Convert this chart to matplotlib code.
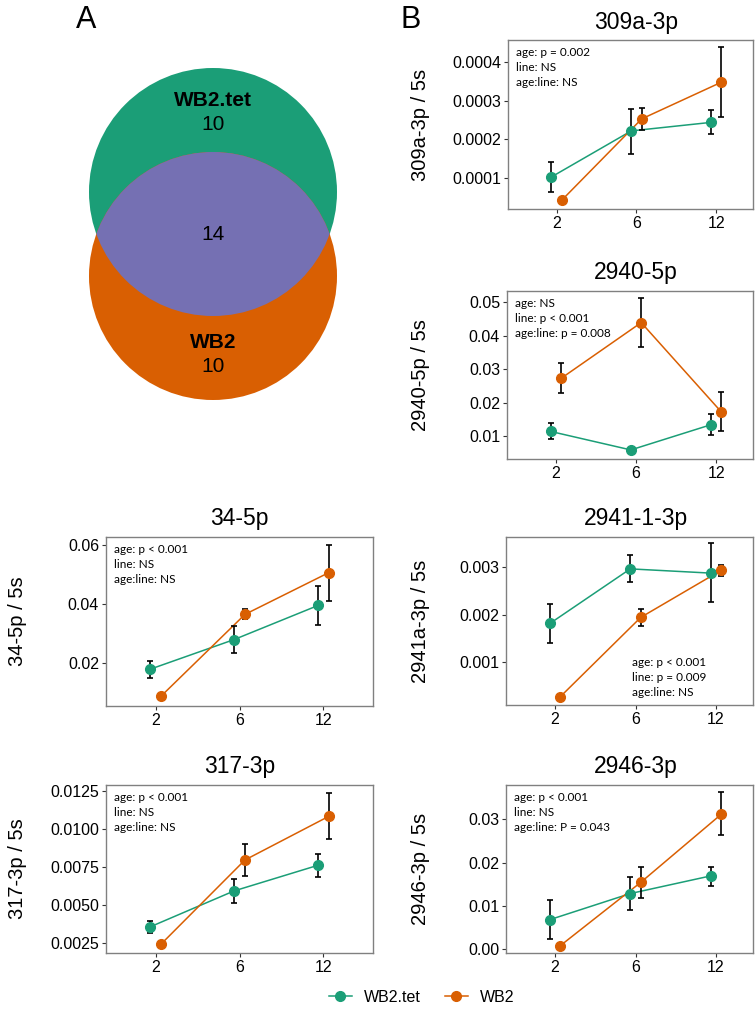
import numpy as np
import matplotlib
matplotlib.use("Agg")
import matplotlib.pyplot as plt
from matplotlib.patches import Circle
import matplotlib.transforms as mtransforms

plt.rcParams['font.family'] = ['Liberation Sans', 'DejaVu Sans']

W, H = 755, 1014

# ---- data ----
ages = ["2", "6", "12"]
groups = ["WB2.tet", "WB2"]
colors = {"WB2.tet": "#1B9E77", "WB2": "#D95F02"}
overlap_color = "#7570B3"

venn_only_tet = 10
venn_only_wb2 = 10
venn_shared = 14

# mean, lower, upper per group for each miRNA
mir309_tet = [0.000103, 0.000222, 0.000244]
mir309_tet_lo = [0.000064, 0.000163, 0.000214]
mir309_tet_hi = [0.000142, 0.000279, 0.000276]
mir309_wb2 = [0.000043, 0.000253, 0.000348]
mir309_wb2_lo = [0.000041, 0.000224, 0.000259]
mir309_wb2_hi = [0.000045, 0.000282, 0.000438]

mir2940_tet = [0.0115, 0.0060, 0.0135]
mir2940_tet_lo = [0.0092, 0.0057, 0.0104]
mir2940_tet_hi = [0.0139, 0.0063, 0.0167]
mir2940_wb2 = [0.0273, 0.0439, 0.0173]
mir2940_wb2_lo = [0.0229, 0.0366, 0.0117]
mir2940_wb2_hi = [0.0318, 0.0513, 0.0233]

mir34_tet = [0.0180, 0.0280, 0.0395]
mir34_tet_lo = [0.0152, 0.0236, 0.0329]
mir34_tet_hi = [0.0208, 0.0325, 0.0462]
mir34_wb2 = [0.0089, 0.0365, 0.0506]
mir34_wb2_lo = [0.0087, 0.0350, 0.0411]
mir34_wb2_hi = [0.0091, 0.0383, 0.0600]

mir2941_tet = [0.00181, 0.00297, 0.00288]
mir2941_tet_lo = [0.00140, 0.00269, 0.00226]
mir2941_tet_hi = [0.00222, 0.00326, 0.00351]
mir2941_wb2 = [0.000255, 0.00194, 0.00294]
mir2941_wb2_lo = [0.000245, 0.00176, 0.00282]
mir2941_wb2_hi = [0.000265, 0.00212, 0.00305]

mir317_tet = [0.00353, 0.00590, 0.00759]
mir317_tet_lo = [0.00310, 0.00510, 0.00684]
mir317_tet_hi = [0.00392, 0.00670, 0.00831]
mir317_wb2 = [0.00239, 0.00794, 0.01082]
mir317_wb2_lo = [0.00236, 0.00690, 0.00930]
mir317_wb2_hi = [0.00242, 0.00897, 0.01238]

mir2946_tet = [0.00674, 0.0128, 0.0169]
mir2946_tet_lo = [0.0023, 0.0089, 0.0146]
mir2946_tet_hi = [0.0112, 0.0167, 0.0190]
mir2946_wb2 = [0.0007, 0.0154, 0.0312]
mir2946_wb2_lo = [0.0006, 0.0117, 0.0263]
mir2946_wb2_hi = [0.0008, 0.0190, 0.0364]

panels = [
    # title, ylabel, tet, tet_lo, tet_hi, wb2, wb2_lo, wb2_hi, yticks, yticklabels, ylim, stats, rect(l,t,r,b), stats_loc
    ("309a-3p", "309a-3p / 5s", mir309_tet, mir309_tet_lo, mir309_tet_hi,
     mir309_wb2, mir309_wb2_lo, mir309_wb2_hi,
     [0.0001, 0.0002, 0.0003, 0.0004], ["0.0001", "0.0002", "0.0003", "0.0004"],
     (0.00002, 0.000457), "age: p = 0.002\nline: NS\nage:line: NS", (508, 40, 753, 209), "top"),
    ("2940-5p", "2940-5p / 5s", mir2940_tet, mir2940_tet_lo, mir2940_tet_hi,
     mir2940_wb2, mir2940_wb2_lo, mir2940_wb2_hi,
     [0.01, 0.02, 0.03, 0.04, 0.05], ["0.01", "0.02", "0.03", "0.04", "0.05"],
     (0.0033, 0.0533), "age: NS\nline: p < 0.001\nage:line: p = 0.008", (507, 291, 753, 459), "top"),
    ("34-5p", "34-5p / 5s", mir34_tet, mir34_tet_lo, mir34_tet_hi,
     mir34_wb2, mir34_wb2_lo, mir34_wb2_hi,
     [0.02, 0.04, 0.06], ["0.02", "0.04", "0.06"],
     (0.0056, 0.0626), "age: p < 0.001\nline: NS\nage:line: NS", (106, 537, 373, 706), "top"),
    ("2941-1-3p", "2941a-3p / 5s", mir2941_tet, mir2941_tet_lo, mir2941_tet_hi,
     mir2941_wb2, mir2941_wb2_lo, mir2941_wb2_hi,
     [0.001, 0.002, 0.003], ["0.001", "0.002", "0.003"],
     (0.000079, 0.003647), "age: p < 0.001\nline: p = 0.009\nage:line: NS", (506, 537, 753, 705), "bottom"),
    ("317-3p", "317-3p / 5s", mir317_tet, mir317_tet_lo, mir317_tet_hi,
     mir317_wb2, mir317_wb2_lo, mir317_wb2_hi,
     [0.0025, 0.0050, 0.0075, 0.0100, 0.0125], ["0.0025", "0.0050", "0.0075", "0.0100", "0.0125"],
     (0.00181, 0.01288), "age: p < 0.001\nline: NS\nage:line: NS", (106, 785, 373, 953), "top"),
    ("2946-3p", "2946-3p / 5s", mir2946_tet, mir2946_tet_lo, mir2946_tet_hi,
     mir2946_wb2, mir2946_wb2_lo, mir2946_wb2_hi,
     [0.00, 0.01, 0.02, 0.03], ["0.00", "0.01", "0.02", "0.03"],
     (-0.001, 0.038), "age: p < 0.001\nline: NS\nage:line: P = 0.043", (506, 785, 753, 953), "top"),
]

fig = plt.figure(figsize=(W / 100, H / 100), dpi=100)


def rect(l, t, r, b):
    return [l / W, 1 - b / H, (r - l) / W, (b - t) / H]


# ---- panel A: venn ----
axv = fig.add_axes([0, 0, 1, 1])
axv.set_xlim(0, W)
axv.set_ylim(H, 0)
axv.axis("off")
r = 124
c_tet = (213, 192)
c_wb2 = (213, 276)
axv.add_patch(Circle(c_tet, r, color=colors["WB2.tet"], lw=0))
axv.add_patch(Circle(c_wb2, r, color=colors["WB2"], lw=0))
clip = Circle(c_tet, r, transform=axv.transData)
ov = Circle(c_wb2, r, color=overlap_color, lw=0)
axv.add_patch(ov)
ov.set_clip_path(clip)
axv.text(213, 100, "WB2.tet", ha="center", va="center", fontsize=15, fontweight="bold")
axv.text(213, 124, str(venn_only_tet), ha="center", va="center", fontsize=15)
axv.text(213, 234, str(venn_shared), ha="center", va="center", fontsize=15)
axv.text(213, 343, "WB2", ha="center", va="center", fontsize=15, fontweight="bold")
axv.text(213, 366, str(venn_only_wb2), ha="center", va="center", fontsize=15)
axv.text(86, 20, "A", ha="center", va="center", fontsize=22)
axv.text(411, 20, "B", ha="center", va="center", fontsize=22)

# ---- panel B: line plots ----
x = np.arange(1, len(ages) + 1)
dodge = {"WB2.tet": -0.065, "WB2": 0.065}

for (title, ylab, tet, tet_lo, tet_hi, wb2, wb2_lo, wb2_hi,
     yt, ytl, ylim, stats, (l, t, rr, b), loc) in panels:
    ax = fig.add_axes(rect(l, t, rr, b))
    wpx = rr - l
    if l < 300:
        xmin, xmax = 0.41, 3.59
        ylab_x = 27
    else:
        xmin, xmax = 0.39, 3.46
        ylab_x = 430
    for g, m, lo, hi in (("WB2.tet", tet, tet_lo, tet_hi), ("WB2", wb2, wb2_lo, wb2_hi)):
        xs = x + dodge[g]
        m = np.array(m)
        err = np.vstack([m - np.array(lo), np.array(hi) - m])
        ax.plot(xs, m, color=colors[g], lw=1.1, zorder=2)
        ax.errorbar(xs, m, yerr=err, fmt="none", ecolor="black", elinewidth=1.2,
                    capsize=2, capthick=1.2, zorder=3)
        ax.plot(xs, m, "o", color=colors[g], ms=7, zorder=4, mec=colors[g])
    ax.set_xlim(xmin, xmax)
    ax.set_ylim(*ylim)
    ax.set_xticks(x)
    ax.set_xticklabels(ages)
    ax.set_yticks(yt)
    ax.set_yticklabels(ytl)
    ax.tick_params(labelsize=11.5, colors="#333333", length=3, width=0.8, pad=2)
    ax.tick_params(labelcolor="black")
    for s in ax.spines.values():
        s.set_color("#808080")
        s.set_linewidth(1)
    ax.set_ylabel(ylab, fontsize=14.5)
    ax.yaxis.set_label_coords(-(l - ylab_x) / wpx, 0.5)
    trans = mtransforms.blended_transform_factory(ax.transData, ax.transAxes)
    ax.text(2, 1 + 18 / (b - t), title, transform=trans, ha="center", va="center", fontsize=16.5)
    hpx = b - t
    if loc == "top":
        ax.text(8 / wpx, 1 - 7 / hpx, stats, transform=ax.transAxes, ha="left", va="top",
                fontsize=8.5, family=["Lato", "DejaVu Sans"], linespacing=1.45)
    else:
        ax.text((632 - l) / wpx, 7 / hpx, stats, transform=ax.transAxes, ha="left", va="bottom",
                fontsize=8.5, family=["Lato", "DejaVu Sans"], linespacing=1.45)

# ---- legend ----
handles = [plt.Line2D([], [], color=colors[g], marker="o", ms=7, lw=1.1) for g in groups]
fig.legend(handles, groups, loc="center", bbox_to_anchor=(422 / W, 1 - 997 / H), ncol=2,
           frameon=False, fontsize=11.5, handlelength=1.4, columnspacing=1.5, handletextpad=0.8)

fig.savefig("out.png", dpi=100)
